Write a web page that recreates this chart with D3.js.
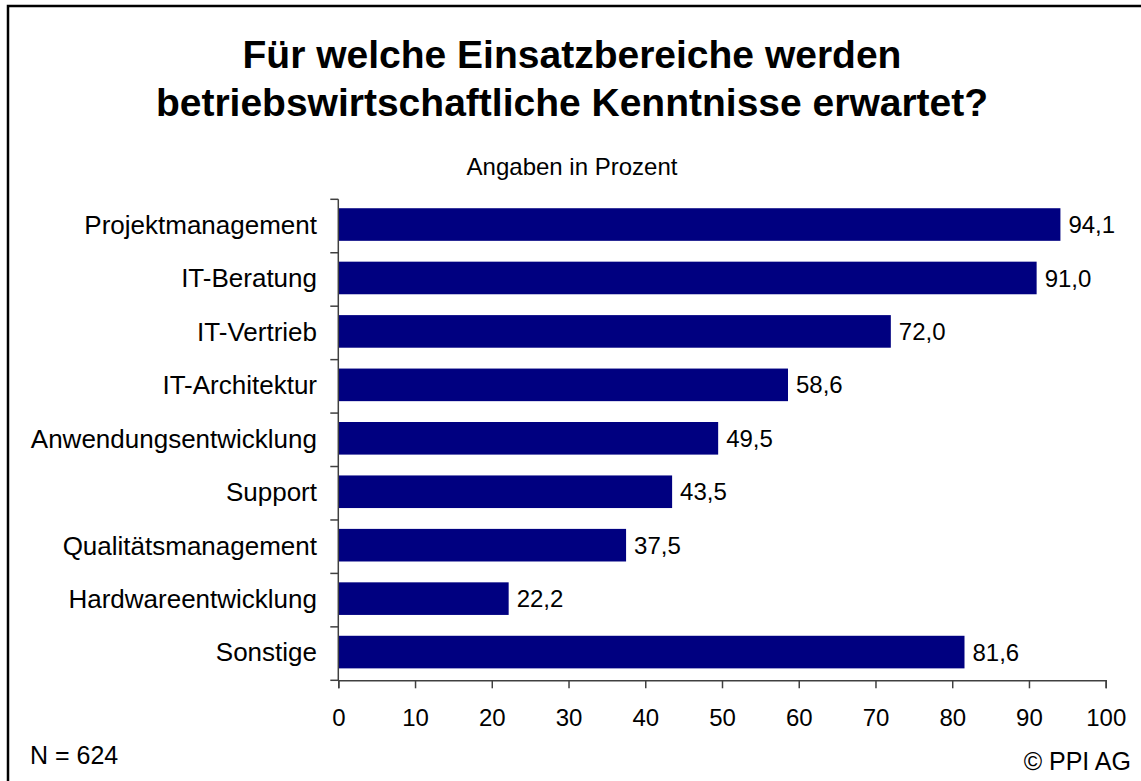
<html>
<head>
<meta charset="utf-8">
<style>
body { margin: 0; background: #fff; }
text { font-family: "Liberation Sans", Arial, sans-serif; fill: #000; }
</style>
</head>
<body>
<svg width="1141" height="781" id="chart"></svg>

<script src="https://d3js.org/d3.v7.min.js"></script>
<script>
var categories = ["Projektmanagement", "IT-Beratung", "IT-Vertrieb", "IT-Architektur",
    "Anwendungsentwicklung", "Support", "Qualitätsmanagement", "Hardwareentwicklung", "Sonstige"];
var values = [94.1, 91.0, 72.0, 58.6, 49.5, 43.5, 37.5, 22.2, 81.6];
var xTicks = [0, 10, 20, 30, 40, 50, 60, 70, 80, 90, 100];
var titleLines = ["Für welche Einsatzbereiche werden", "betriebswirtschaftliche Kenntnisse erwartet?"];
var subtitle = "Angaben in Prozent";
var footLeft = "N = 624";
var footRight = "© PPI AG";

var svg = d3.select("#chart");

// frame (only left and top edges are inside the picture)
svg.append("rect")
    .attr("x", 8).attr("y", 6)
    .attr("width", 1300).attr("height", 1000)
    .attr("fill", "none")
    .attr("stroke", "#000")
    .attr("stroke-width", 2.5);

svg.selectAll(".title")
    .data(titleLines)
    .enter().append("text")
    .attr("class", "title")
    .attr("x", 572)
    .attr("y", function(d, i) { return 68 + i * 48; })
    .attr("text-anchor", "middle")
    .style("font-size", "39px")
    .style("font-weight", "bold")
    .text(function(d) { return d; });

svg.append("text")
    .attr("x", 572).attr("y", 175)
    .attr("text-anchor", "middle")
    .style("font-size", "24px")
    .text(subtitle);

var x = d3.scaleLinear().domain([0, 100]).range([338.3, 1105.7]);
var y = d3.scaleBand().domain(categories).range([199.3, 680.3])
    .paddingInner(0.39).paddingOuter(0.195);

// bars
svg.selectAll(".bar")
    .data(values)
    .enter().append("rect")
    .attr("class", "bar")
    .attr("x", x(0))
    .attr("y", function(d, i) { return y(categories[i]) - 1.5; })
    .attr("width", function(d) { return x(d) - x(0); })
    .attr("height", y.bandwidth())
    .attr("fill", "#000080");

// value labels
svg.selectAll(".val")
    .data(values)
    .enter().append("text")
    .attr("class", "val")
    .attr("x", function(d) { return x(d) + 8; })
    .attr("y", function(d, i) { return y(categories[i]) + y.bandwidth() / 2 - 1.5; })
    .attr("dy", "0.36em")
    .style("font-size", "24px")
    .text(function(d) { return d3.format(".1f")(d).replace(".", ","); });

// y axis: ticks between categories
var yAxis = svg.append("g");
yAxis.append("line")
    .attr("x1", x(0)).attr("x2", x(0))
    .attr("y1", 199.3).attr("y2", 680.3)
    .attr("stroke", "#404040").attr("stroke-width", 1.5);
yAxis.selectAll(".ytick")
    .data(d3.range(categories.length + 1))
    .enter().append("line")
    .attr("x1", x(0) - 8).attr("x2", x(0))
    .attr("y1", function(d) { return 199.3 + d * y.step(); })
    .attr("y2", function(d) { return 199.3 + d * y.step(); })
    .attr("stroke", "#404040").attr("stroke-width", 1.5);

svg.selectAll(".cat")
    .data(categories)
    .enter().append("text")
    .attr("class", "cat")
    .attr("x", 317)
    .attr("y", function(d) { return y(d) + y.bandwidth() / 2 - 1.5; })
    .attr("dy", "0.36em")
    .attr("text-anchor", "end")
    .style("font-size", "26px")
    .text(function(d) { return d; });

// x axis
var xAxis = svg.append("g")
    .attr("transform", "translate(0,680.3)")
    .call(d3.axisBottom(x).tickValues(xTicks).tickSize(8).tickPadding(21).tickFormat(d3.format("d")));
xAxis.select(".domain").attr("stroke", "#404040").attr("stroke-width", 1.5);
xAxis.selectAll(".tick line").attr("stroke", "#404040").attr("stroke-width", 1.5);
xAxis.selectAll(".tick text")
    .attr("fill", "#000")
    .style("font-size", "24px")
    .style("font-family", "'Liberation Sans', Arial, sans-serif");

svg.append("text")
    .attr("x", 30).attr("y", 764)
    .style("font-size", "25px")
    .text(footLeft);

svg.append("text")
    .attr("x", 1131).attr("y", 770)
    .attr("text-anchor", "end")
    .style("font-size", "25px")
    .text(footRight);
</script>
</body>
</html>
